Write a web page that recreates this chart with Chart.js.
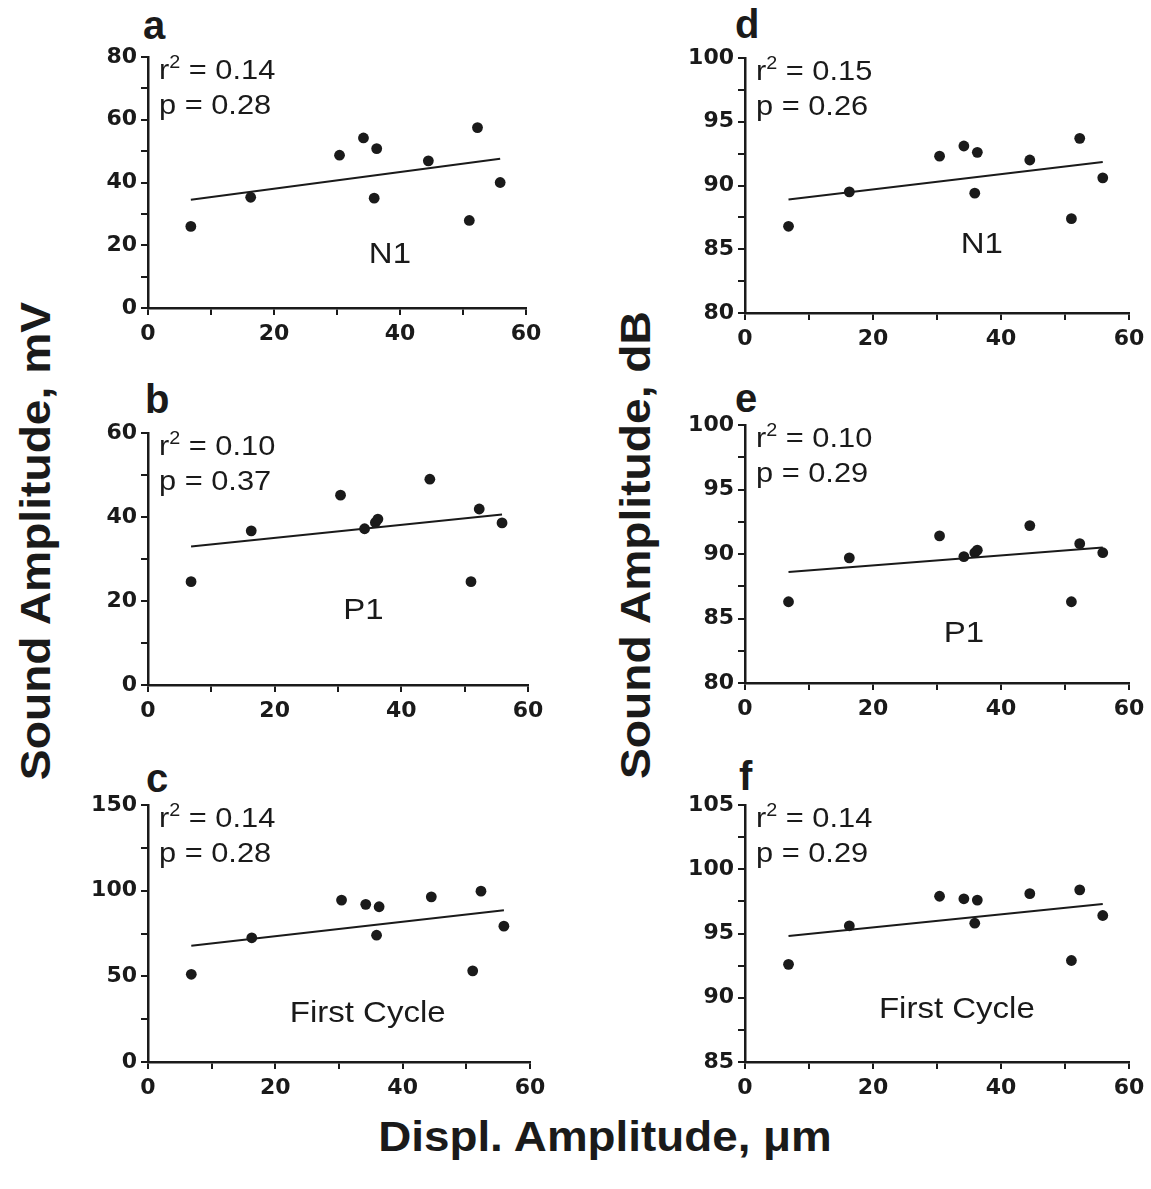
<!DOCTYPE html>
<html>
<head>
<meta charset="utf-8">
<script src="https://cdn.jsdelivr.net/npm/chart.js@4.4.1/dist/chart.umd.min.js"></script>
<style>
  body { margin: 0; background: #fff; width: 1151px; height: 1189px; position: relative; overflow: hidden;
         font-family: 'Liberation Sans', Arial, sans-serif; color: #1a1a1a; }
  canvas { position: absolute; }
  .letter { position: absolute; font-weight: bold; font-size: 40px; line-height: 40px; }
  .title { position: absolute; font-weight: bold; font-size: 42px; line-height: 50px; height: 50px; width: 600px;
           text-align: center; white-space: nowrap; }
</style>
</head>
<body>
<div class="letter" style="left:143px;top:5px">a</div>
<div class="letter" style="left:145px;top:379px">b</div>
<div class="letter" style="left:146px;top:758px">c</div>
<div class="letter" style="left:735px;top:4px">d</div>
<div class="letter" style="left:735px;top:378px">e</div>
<div class="letter" style="left:739px;top:756px">f</div>

<script>
// displacement amplitude (um), same animals in every panel
const xDispl = [6.8, 16.3, 30.4, 34.2, 35.9, 36.3, 44.5, 51.0, 52.3, 55.9];

// sound amplitude, mV
const n1mV = [26.0, 35.3, 48.7, 54.2, 35.0, 50.8, 46.9, 27.9, 57.5, 40.0];
const p1mV = [24.6, 36.7, 45.2, 37.2, 38.7, 39.5, 49.0, 24.6, 41.9, 38.6];
const cycleMV = [51.2, 72.5, 94.5, 92.0, 74.0, 90.6, 96.4, 53.2, 99.7, 79.3];

// sound amplitude, dB
const n1dB = [86.8, 89.5, 92.3, 93.1, 89.4, 92.6, 92.0, 87.4, 93.7, 90.6];
const p1dB = [86.3, 89.7, 91.4, 89.8, 90.1, 90.3, 92.2, 86.3, 90.8, 90.1];
const cycleDB = [92.6, 95.6, 97.9, 97.7, 95.8, 97.6, 98.1, 92.9, 98.4, 96.4];

// regression lines (ends)
const fitX = [6.8, 55.9];
const fitN1mV = [34.5, 47.6];
const fitP1mV = [33.0, 40.6];
const fitCycleMV = [67.8, 88.6];
const fitN1dB = [88.9, 91.85];
const fitP1dB = [88.6, 90.5];
const fitCycleDB = [94.8, 97.3];

const xTicks = { min: 0, max: 60, minor: 10, major: 20 };

const panels = [
  { box: [148, 57, 378, 251], y: n1mV, fit: fitN1mV, min: 0, max: 80, minor: 10, major: 20, r2: '0.14', p: '0.28', tag: 'N1', tagAt: [38.4, 14.3] },
  { box: [148, 433, 380, 252], y: p1mV, fit: fitP1mV, min: 0, max: 60, minor: 10, major: 20, r2: '0.10', p: '0.37', tag: 'P1', tagAt: [34.0, 15.7] },
  { box: [148, 805, 382, 257], y: cycleMV, fit: fitCycleMV, min: 0, max: 150, minor: 25, major: 50, r2: '0.14', p: '0.28', tag: 'First Cycle', tagAt: [34.5, 23.3] },
  { box: [745, 58, 384, 255], y: n1dB, fit: fitN1dB, min: 80, max: 100, minor: 2.5, major: 5, r2: '0.15', p: '0.26', tag: 'N1', tagAt: [37.0, 84.7] },
  { box: [745, 425, 384, 258], y: p1dB, fit: fitP1dB, min: 80, max: 100, minor: 2.5, major: 5, r2: '0.10', p: '0.29', tag: 'P1', tagAt: [34.2, 83.2] },
  { box: [745, 805, 384, 257], y: cycleDB, fit: fitCycleDB, min: 85, max: 105, minor: 2.5, major: 5, r2: '0.14', p: '0.29', tag: 'First Cycle', tagAt: [33.1, 88.4] }
];

const ink = '#1a1a1a';
const padL = 75, padT = 20, padR = 30, padB = 45;
const stretch = 1.1;
const tickFont = { family: 'DejaVu Sans', weight: 'bold', size: 22 };

function isMajor(v, major) {
  const k = v / major;
  return Math.abs(k - Math.round(k)) < 1e-6;
}

function wideText(ctx, text, x, y, align) {
  ctx.save();
  ctx.translate(x, y);
  ctx.scale(stretch, 1);
  ctx.textAlign = align;
  ctx.fillText(text, 0, 0);
  ctx.restore();
  return ctx.measureText(text).width * stretch;
}

function axisStyle() {
  return {
    grid: { display: true, drawOnChartArea: false, drawTicks: true, tickLength: 7, color: ink, lineWidth: 2 },
    border: { display: true, color: ink, width: 2.5 }
  };
}

panels.forEach(function(pn) {
  const [left, top, w, h] = pn.box;
  const cv = document.createElement('canvas');
  cv.width = padL + w + padR;
  cv.height = padT + h + padB;
  cv.style.left = (left - padL) + 'px';
  cv.style.top = (top - padT) + 'px';
  document.body.appendChild(cv);

  const notes = {
    id: 'notes',
    afterDraw(chart) {
      const ctx = chart.ctx;
      const area = chart.chartArea;
      ctx.save();
      ctx.fillStyle = ink;
      ctx.textBaseline = 'alphabetic';
      // r^2 line
      let x = area.left + 11;
      const y1 = area.top + 22, y2 = area.top + 57;
      ctx.font = '28px "Liberation Sans", Arial, sans-serif';
      x += wideText(ctx, 'r', x, y1, 'left');
      ctx.font = '18px "Liberation Sans", Arial, sans-serif';
      x += wideText(ctx, '2', x, y1 - 11, 'left');
      ctx.font = '28px "Liberation Sans", Arial, sans-serif';
      wideText(ctx, ' = ' + pn.r2, x, y1, 'left');
      wideText(ctx, 'p = ' + pn.p, area.left + 11, y2, 'left');
      // component label
      ctx.font = '30px "Liberation Sans", Arial, sans-serif';
      const tx = chart.scales.x.getPixelForValue(pn.tagAt[0]);
      const ty = chart.scales.y.getPixelForValue(pn.tagAt[1]);
      wideText(ctx, pn.tag, tx, ty, 'center');
      ctx.restore();
    }
  };

  new Chart(cv.getContext('2d'), {
    type: 'scatter',
    data: {
      datasets: [{
        data: xDispl.map((x, i) => ({ x: x, y: pn.y[i] })),
        pointRadius: 5.4,
        pointBackgroundColor: ink,
        pointBorderWidth: 0
      }, {
        data: fitX.map((x, i) => ({ x: x, y: pn.fit[i] })),
        showLine: true,
        borderColor: ink,
        borderWidth: 2,
        pointRadius: 0
      }]
    },
    options: {
      responsive: false,
      animation: false,
      layout: { padding: { top: padT, right: padR, left: 0, bottom: 0 } },
      plugins: { legend: { display: false }, tooltip: { enabled: false } },
      scales: {
        x: Object.assign(axisStyle(), {
          type: 'linear', min: xTicks.min, max: xTicks.max,
          ticks: {
            stepSize: xTicks.minor, autoSkip: false, maxRotation: 0, padding: 6, color: ink,
            font: tickFont,
            callback: v => isMajor(v, xTicks.major) ? String(v) : ''
          },
          afterFit(s) { s.height = padB; s.paddingLeft = 0; s.paddingRight = 0; }
        }),
        y: Object.assign(axisStyle(), {
          type: 'linear', min: pn.min, max: pn.max,
          ticks: {
            stepSize: pn.minor, autoSkip: false, padding: 4, color: ink,
            font: tickFont,
            callback: v => isMajor(v, pn.major) ? String(v) : ''
          },
          afterFit(s) { s.width = padL; s.paddingTop = 0; s.paddingBottom = 0; }
        })
      }
    },
    plugins: [notes]
  });
});
</script>

<div class="title" style="left:-264px;top:516px;transform:rotate(-90deg) scaleX(1.1)">Sound Amplitude, mV</div>
<div class="title" style="left:336px;top:520px;transform:rotate(-90deg) scaleX(1.1)">Sound Amplitude, dB</div>
<div class="title" style="left:305px;top:1112px;transform:scaleX(1.09)">Displ. Amplitude, &mu;m</div>
</body>
</html>
